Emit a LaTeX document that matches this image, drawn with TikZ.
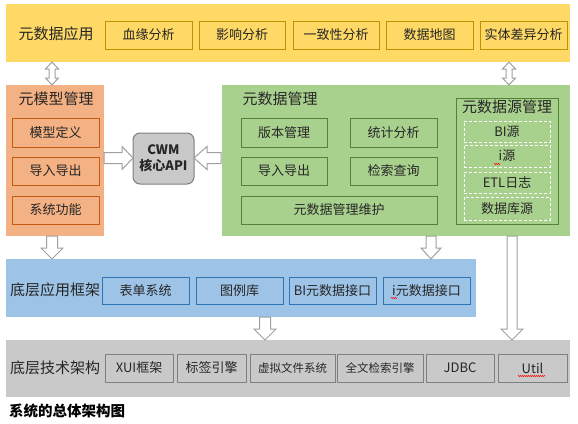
\documentclass[tikz,border=0pt]{standalone}
\usepackage{fontspec}
\setmainfont{Noto Sans CJK SC}
\usetikzlibrary{calc,decorations.pathmorphing}
\definecolor{ylw}{HTML}{FFD966}
\definecolor{ylwb}{HTML}{BF9000}
\definecolor{org}{HTML}{F4B183}
\definecolor{orgb}{HTML}{C55A11}
\definecolor{grn}{HTML}{A9D18E}
\definecolor{grnb}{HTML}{548235}
\definecolor{blu}{HTML}{9DC3E6}
\definecolor{blub}{HTML}{2E75B6}
\definecolor{gry}{HTML}{C9C9C9}
\definecolor{gryb}{HTML}{808080}
\definecolor{arrb}{HTML}{A0A0A0}
\definecolor{txt}{HTML}{262626}
\newcommand\rb[7]{\node[#1, minimum width={(#5-#3)*1pt}, minimum height={(#6-#4)*1pt}] (#2) at ({(#3+#5)/2},{(#4+#6)/2}) {#7};}
% vertical down fat arrow: start, end, shaft half, head half, head len
\newcommand\fatdown[5]{\draw[fatarr] let \p1=(#1), \p2=(#2) in
  ({\x1-#3pt},\y1) -- ({\x1-#3pt},{\y2+#5pt}) -- ({\x1-#4pt},{\y2+#5pt}) -- (\x1,\y2)
  -- ({\x1+#4pt},{\y2+#5pt}) -- ({\x1+#3pt},{\y2+#5pt}) -- ({\x1+#3pt},\y1) -- cycle;}
% vertical double arrow: top, bottom, shaft half, head half, head len
\newcommand\fatupdown[5]{\draw[fatarr] let \p1=(#1), \p2=(#2) in
  (\x1,\y1) -- ({\x1+#4pt},{\y1-#5pt}) -- ({\x1+#3pt},{\y1-#5pt}) -- ({\x1+#3pt},{\y2+#5pt})
  -- ({\x1+#4pt},{\y2+#5pt}) -- (\x1,\y2) -- ({\x1-#4pt},{\y2+#5pt}) -- ({\x1-#3pt},{\y2+#5pt})
  -- ({\x1-#3pt},{\y1-#5pt}) -- ({\x1-#4pt},{\y1-#5pt}) -- cycle;}
% horizontal fat arrow: start, tip, shaft half, head half, head len (signed: + for right)
\newcommand\fath[5]{\draw[fatarr] let \p1=(#1), \p2=(#2) in
  (\x1,{\y1+#3pt}) -- ({\x2-#5pt},{\y1+#3pt}) -- ({\x2-#5pt},{\y1+#4pt}) -- (\x2,\y2)
  -- ({\x2-#5pt},{\y1-#4pt}) -- ({\x2-#5pt},{\y1-#3pt}) -- (\x1,{\y1-#3pt}) -- cycle;}
\tikzset{
  band/.style={draw=none, inner sep=0pt},
  tb/.style={inner sep=0pt, line width=1pt, text=txt, font=\fontsize{13}{15}\selectfont},
  tbs/.style={tb, font=\fontsize{11.5}{14}\selectfont},
  ttl/.style={inner sep=0pt, text=txt, font=\fontsize{15}{18}\selectfont},
  ybox/.style={tb, draw=ylwb, fill=ylw},
  obox/.style={tb, draw=orgb, fill=org},
  gbox/.style={tb, draw=grnb, fill=grn},
  dbox/.style={tb, draw=white, dashed, dash pattern=on 3pt off 2pt, fill=grn},
  bbox/.style={tb, draw=blub, fill=blu},
  kbox/.style={tb, draw=gryb, fill=gry},
  fatarr/.style={draw=arrb, fill=white, line width=1pt, line join=miter},
  squig/.style={draw=red, line width=0.5pt, decorate, decoration={zigzag, segment length=2pt, amplitude=0.6pt}}
}
\begin{document}
\begin{tikzpicture}[x=1pt,y=-1pt]
\useasboundingbox[fill=white] (0,0) rectangle (578,423);
% top band
\rb{band, fill=ylw}{app}{6}{4}{570}{62}{}
\node[ttl] (appt) at (56,34) {元数据应用};
\rb{ybox}{ya1}{105}{21}{192}{49}{血缘分析}
\rb{ybox}{ya2}{199}{21}{285}{49}{影响分析}
\rb{ybox}{ya3}{293}{21}{379}{49}{一致性分析}
\rb{ybox}{ya4}{386}{21}{473}{49}{数据地图}
\rb{ybox}{ya5}{480}{21}{567}{49}{实体差异分析}
% orange panel
\rb{band, fill=org}{orng}{6}{85}{104}{236}{}
\node[ttl] (orngt) at (56,99) {元模型管理};
\rb{obox}{o1}{12}{118}{99}{147}{模型定义}
\rb{obox}{o2}{12}{157}{99}{185}{导入导出}
\rb{obox}{o3}{12}{196}{99}{224}{系统功能}
% CWM
\rb{tb, draw=gryb, fill=gry, rounded corners=7pt, align=center, font=\fontsize{13}{16}\selectfont\bfseries}{cwm}{133}{133}{194}{184}{CWM\\核心API}
% green panel
\rb{band, fill=grn}{gp}{222}{85}{570}{236}{}
\node[ttl] (gpt) at (280,99) {元数据管理};
\rb{gbox}{g1}{241}{118}{327}{147}{版本管理}
\rb{gbox}{g2}{350}{118}{437}{147}{统计分析}
\rb{gbox}{g3}{241}{157}{327}{185}{导入导出}
\rb{gbox}{g4}{350}{157}{437}{185}{检索查询}
\rb{gbox}{g5}{241}{196}{437}{224}{元数据管理维护}
\rb{gbox}{src}{456}{98}{558}{224}{}
\node[ttl] (srct) at (507,107) {元数据源管理};
\rb{dbox}{s1}{464}{121}{550}{142}{BI源}
\rb{dbox}{s2}{464}{145}{550}{167}{i源}
\rb{dbox}{s3}{464}{172}{550}{193}{ETL日志}
\rb{dbox}{s4}{464}{197}{550}{220}{数据库源}
% blue band
\rb{band, fill=blu}{bl}{6}{259}{476}{317}{}
\node[ttl] (blt) at (55,290) {底层应用框架};
\rb{bbox}{b1}{102}{277}{189}{304}{表单系统}
\rb{bbox}{b2}{196}{277}{283}{304}{图例库}
\rb{bbox}{b3}{289}{277}{376}{304}{BI元数据接口}
\rb{bbox}{b4}{383}{277}{470}{304}{i元数据接口}
% gray band
\rb{band, fill=gry}{gr}{6}{340}{570}{397}{}
\node[ttl] (grt) at (55,368) {底层技术架构};
\rb{kbox}{k1}{105}{354}{173}{382}{XUI框架}
\rb{kbox}{k2}{177}{354}{246}{382}{标签引擎}
\rb{kbox, tbs}{k3}{250}{354}{335}{382}{虚拟文件系统}
\rb{kbox, tbs}{k4}{337}{354}{423}{382}{全文检索引擎}
\rb{kbox}{k5}{426}{354}{494}{382}{JDBC}
\rb{kbox}{k6}{498}{354}{567}{382}{Util}
% caption
\node[anchor=west, inner sep=0pt, font=\fontsize{14.5}{17}\selectfont\bfseries] (cap) at (9,411) {系统的总体架构图};
% arrow end points
\coordinate (d1a) at (52,62);  \coordinate (d1b) at (52,85);
\coordinate (d2a) at (509,62); \coordinate (d2b) at (509,85);
\coordinate (h1a) at (104,158); \coordinate (h1b) at (133,158);
\coordinate (h2a) at (221,158); \coordinate (h2b) at (194,158);
\coordinate (v1a) at (52,236); \coordinate (v1b) at (52,259);
\coordinate (v2a) at (431,236); \coordinate (v2b) at (431,259);
\coordinate (v3a) at (265,317); \coordinate (v3b) at (265,340);
\coordinate (v4a) at (512,236); \coordinate (v4b) at (512,340);
\fatupdown{d1a}{d1b}{3}{6.5}{7}
\fatupdown{d2a}{d2b}{3}{6.5}{7}
\fath{h1a}{h1b}{5.5}{11.5}{11}
\fath{h2a}{h2b}{5.5}{11.5}{-13}
\fatdown{v1a}{v1b}{5.5}{11}{11}
\fatdown{v2a}{v2b}{5}{10}{11}
\fatdown{v3a}{v3b}{5.5}{11}{11}
\fatdown{v4a}{v4b}{5}{11}{11}
% spell-check marks
\draw[squig] (494,164) -- (500,164);
\draw[squig] (391,298) -- (397,298);
\draw[squig] (518,376) -- (545,376);
\end{tikzpicture}
\end{document}
